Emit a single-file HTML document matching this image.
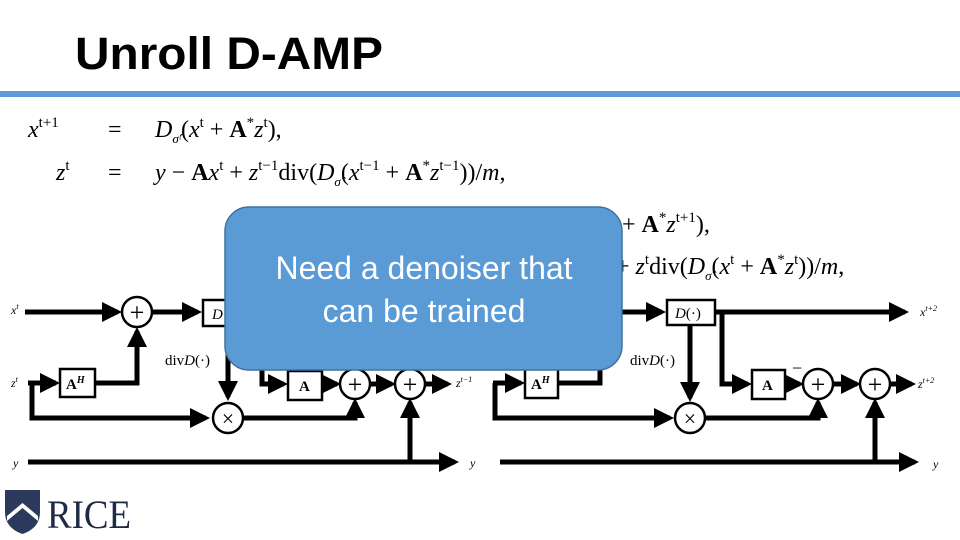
<!DOCTYPE html>
<html><head><meta charset="utf-8"><style>
html,body{margin:0;padding:0;background:#fff;}
svg{display:block;}
.m{font-family:"Liberation Serif",serif;font-style:italic;}
.r{font-family:"Liberation Serif",serif;}
</style></head><body>
<svg width="960" height="540" viewBox="0 0 960 540" xmlns="http://www.w3.org/2000/svg">
<defs>
<marker id="a" markerWidth="4" markerHeight="4" refX="3.2" refY="2" orient="auto" markerUnits="strokeWidth">
<path d="M0,0 L4,2 L0,4 z" fill="#000"/></marker>
</defs>
<text x="75" y="69" font-family="Liberation Sans,sans-serif" font-weight="bold" font-size="45" textLength="308" lengthAdjust="spacingAndGlyphs">Unroll D-AMP</text>
<rect x="0" y="91" width="960" height="6" fill="#5b9bd5"/>

<g font-size="24" class="r">
<text x="28" y="137"><tspan class="m">x</tspan><tspan font-size="15" dy="-10">t+1</tspan></text>
<text x="108" y="137">=</text>
<text x="155" y="137"><tspan class="m">D</tspan><tspan class="m" font-size="13" dy="6">σ̂ᵗ</tspan><tspan dy="-6">(</tspan><tspan class="m">x</tspan><tspan font-size="15" dy="-10">t</tspan><tspan dy="10"> + </tspan><tspan font-weight="bold">A</tspan><tspan font-size="15" dy="-10">*</tspan><tspan class="m" dy="10">z</tspan><tspan font-size="15" dy="-10">t</tspan><tspan dy="10">),</tspan></text>
<text x="56" y="180"><tspan class="m">z</tspan><tspan font-size="15" dy="-10">t</tspan></text>
<text x="108" y="180">=</text>
<text x="155" y="180"><tspan class="m">y</tspan> − <tspan font-weight="bold">A</tspan><tspan class="m">x</tspan><tspan font-size="15" dy="-10">t</tspan><tspan dy="10"> + </tspan><tspan class="m">z</tspan><tspan font-size="15" dy="-10">t−1</tspan><tspan dy="10">div(</tspan><tspan class="m">D</tspan><tspan class="m" font-size="13" dy="6">σ̂</tspan><tspan dy="-6">(</tspan><tspan class="m">x</tspan><tspan font-size="15" dy="-10">t−1</tspan><tspan dy="10"> + </tspan><tspan font-weight="bold">A</tspan><tspan font-size="15" dy="-10">*</tspan><tspan class="m" dy="10">z</tspan><tspan font-size="15" dy="-10">t−1</tspan><tspan dy="10">))/</tspan><tspan class="m">m</tspan>,</text>
<text x="622" y="232"> + <tspan font-weight="bold">A</tspan><tspan font-size="15" dy="-10">*</tspan><tspan class="m" dy="10">z</tspan><tspan font-size="15" dy="-10">t+1</tspan><tspan dy="10">),</tspan></text>
<text x="616" y="274">+ <tspan class="m">z</tspan><tspan font-size="15" dy="-10">t</tspan><tspan dy="10">div(</tspan><tspan class="m">D</tspan><tspan class="m" font-size="13" dy="6">σ̂</tspan><tspan dy="-6">(</tspan><tspan class="m">x</tspan><tspan font-size="15" dy="-10">t</tspan><tspan dy="10"> + </tspan><tspan font-weight="bold">A</tspan><tspan font-size="15" dy="-10">*</tspan><tspan class="m" dy="10">z</tspan><tspan font-size="15" dy="-10">t</tspan><tspan dy="10">))/</tspan><tspan class="m">m</tspan>,</text>
</g>

<g stroke="#000" stroke-width="5" fill="none">
<line x1="25" y1="312" x2="118" y2="312" marker-end="url(#a)"/>
<line x1="152" y1="312" x2="198" y2="312" marker-end="url(#a)"/>
<polyline points="28,383 56,383" marker-end="url(#a)"/>
<polyline points="95,383 137,383 137,331" marker-end="url(#a)"/>
<polyline points="32,383 32,418 206,418" marker-end="url(#a)"/>
<line x1="228" y1="325" x2="228" y2="397" marker-end="url(#a)"/>
<polyline points="243,418 355,418 355,402" marker-end="url(#a)"/>
<polyline points="262,360 262,384 284,384" marker-end="url(#a)"/>
<line x1="322" y1="384" x2="337" y2="384" marker-end="url(#a)"/>
<line x1="370" y1="384" x2="392" y2="384" marker-end="url(#a)"/>
<line x1="425" y1="384" x2="448" y2="384" marker-end="url(#a)"/>
<line x1="28" y1="462" x2="455" y2="462" marker-end="url(#a)"/>
<line x1="410" y1="462" x2="410" y2="402" marker-end="url(#a)"/>
<line x1="622" y1="312" x2="662" y2="312" marker-end="url(#a)"/>
<line x1="715" y1="312" x2="905" y2="312" marker-end="url(#a)"/>
<line x1="690" y1="325" x2="690" y2="398" marker-end="url(#a)"/>
<polyline points="722,312 722,384 748,384" marker-end="url(#a)"/>
<line x1="785" y1="384" x2="800" y2="384" marker-end="url(#a)"/>
<line x1="833" y1="384" x2="857" y2="384" marker-end="url(#a)"/>
<line x1="890" y1="384" x2="912" y2="384" marker-end="url(#a)"/>
<line x1="493" y1="383" x2="521" y2="383" marker-end="url(#a)"/>
<polyline points="558,383 600,383 600,360"/>
<polyline points="495,383 495,418 670,418" marker-end="url(#a)"/>
<polyline points="705,418 818,418 818,402" marker-end="url(#a)"/>
<line x1="500" y1="462" x2="915" y2="462" marker-end="url(#a)"/>
<line x1="875" y1="462" x2="875" y2="402" marker-end="url(#a)"/>
</g>
<g stroke="#000" stroke-width="2.5" fill="#fff">
<circle cx="137" cy="312" r="15"/><circle cx="228" cy="418" r="15"/>
<circle cx="355" cy="384" r="15"/><circle cx="410" cy="384" r="15"/>
<circle cx="690" cy="418" r="15"/><circle cx="818" cy="384" r="15"/><circle cx="875" cy="384" r="15"/>
<rect x="60" y="369" width="35" height="28"/>
<rect x="288" y="371" width="34" height="29"/>
<rect x="203" y="300" width="30" height="26"/>
<rect x="667" y="300" width="48" height="25"/>
<rect x="752" y="370" width="33" height="29"/>
<rect x="525" y="369" width="33" height="29"/>
</g>
<g font-size="26" class="r" text-anchor="middle">
<text x="137" y="321">+</text><text x="355" y="393">+</text><text x="410" y="393">+</text>
<text x="818" y="393">+</text><text x="875" y="393">+</text>
<text x="228" y="426" font-size="22">×</text><text x="690" y="426" font-size="22">×</text>
</g>
<g class="r" font-size="15">
<text x="66" y="389" font-weight="bold">A<tspan font-size="10" dy="-6" class="m">H</tspan></text>
<text x="531" y="389" font-weight="bold">A<tspan font-size="10" dy="-6" class="m">H</tspan></text>
<text x="299" y="391" font-weight="bold">A</text>
<text x="762" y="390" font-weight="bold">A</text>
<text x="212" y="319" class="m">D</text>
<text x="675" y="318"><tspan class="m">D</tspan>(·)</text>
<text x="165" y="365">div<tspan class="m">D</tspan>(·)</text>
<text x="630" y="365">div<tspan class="m">D</tspan>(·)</text>
<text x="792" y="374" font-size="18">−</text>
</g>
<g class="m" font-size="12">
<text x="11" y="314">x<tspan font-size="8" dy="-5">t</tspan></text>
<text x="11" y="387">z<tspan font-size="8" dy="-5">t</tspan></text>
<text x="13" y="467">y</text>
<text x="456" y="387">z<tspan font-size="8" dy="-5">t−1</tspan></text>
<text x="470" y="467">y</text>
<text x="920" y="316">x<tspan font-size="8" dy="-5">t+2</tspan></text>
<text x="918" y="388">z<tspan font-size="8" dy="-5">t+2</tspan></text>
<text x="933" y="468">y</text>
</g>

<rect x="225" y="207" width="397" height="163" rx="24" fill="#5b9bd5" stroke="#41719c" stroke-width="1.5"/>
<text x="424" y="279" text-anchor="middle" fill="#fff" font-family="Liberation Sans,sans-serif" font-size="32">Need a denoiser that</text>
<text x="424" y="322" text-anchor="middle" fill="#fff" font-family="Liberation Sans,sans-serif" font-size="32">can be trained</text>

<path d="M5,490 L40,490 L40,512 Q40,528 22.5,534 Q5,528 5,512 Z" fill="#2b3a5c"/>
<path d="M7,516 L22.5,503 L38,516 L38,521 L22.5,508 L7,521 Z" fill="#fff"/>
<text x="47" y="528" class="r" font-size="40" fill="#1f2a44" textLength="84" lengthAdjust="spacingAndGlyphs">RICE</text>
</svg>
</body></html>
